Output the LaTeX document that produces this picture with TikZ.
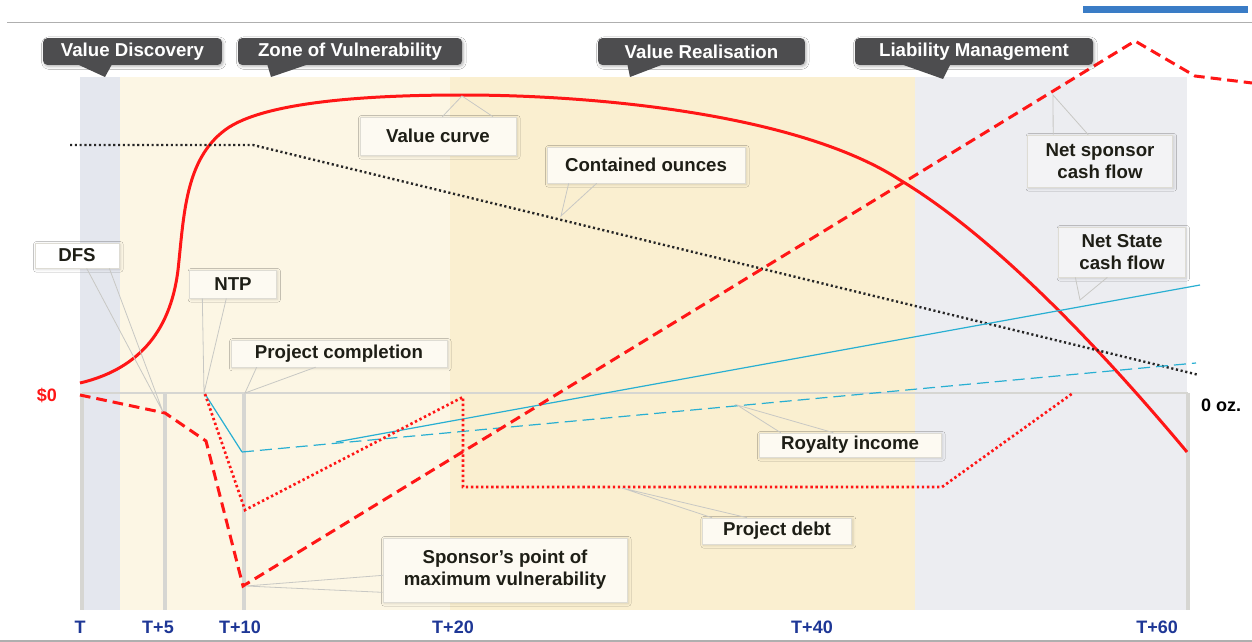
\documentclass[tikz,border=0pt]{standalone}
\usepackage{fontspec}
\setmainfont{Liberation Sans}
\usepackage{tikz}
\usetikzlibrary{shadows.blur}
\usetikzlibrary{shapes}

\definecolor{vdgrey}{RGB}{228,231,238}
\definecolor{zvyellow}{RGB}{252,246,228}
\definecolor{vryellow}{RGB}{250,239,208}
\definecolor{lmgrey}{RGB}{236,237,241}
\definecolor{phasegrey}{RGB}{77,77,79}
\definecolor{lblfill}{RGB}{253,250,242}
\definecolor{lblgreyfill}{RGB}{243,243,245}
\definecolor{lblline}{RGB}{222,220,212}
\definecolor{lbltext}{RGB}{30,30,22}
\definecolor{ptrgrey}{RGB}{200,200,196}
\definecolor{curvered}{RGB}{255,22,22}
\definecolor{statecyan}{RGB}{40,175,210}
\definecolor{tblue}{RGB}{30,55,150}
\definecolor{barblue}{RGB}{58,124,198}
\definecolor{rulegrey}{RGB}{175,175,175}
\definecolor{gridgrey}{RGB}{214,214,210}

\begin{document}
\begin{tikzpicture}[x=0.75pt,y=0.75pt,yscale=-1,xscale=1,
  phase/.style={fill=phasegrey, text=white, rounded corners=3pt, inner sep=0pt, minimum height=20pt,
    font=\bfseries\fontsize{14}{16}\selectfont,
    blur shadow={shadow blur steps=4, shadow xshift=1pt, shadow yshift=-1.2pt, shadow opacity=30}},
  lbl/.style={draw=lblline, fill=lblfill, line width=0.5pt, inner sep=0pt, align=center, text=lbltext,
    font=\bfseries\fontsize{14}{16.5}\selectfont,
    blur shadow={shadow blur steps=4, shadow xshift=1pt, shadow yshift=-1pt, shadow opacity=15}},
  pointer/.style={draw=ptrgrey, line width=0.6pt},
  gridline/.style={draw=gridgrey, line width=3.5pt},
  valuecurve/.style={draw=curvered, line width=2.25pt},
  sponsor/.style={draw=curvered, line width=2.25pt, dash pattern=on 8pt off 4.5pt},
  debt/.style={draw=curvered, line width=2pt, dash pattern=on 1.8pt off 2pt},
  ounces/.style={draw=black!85, line width=1.8pt, dash pattern=on 1.6pt off 2pt},
  state/.style={draw=statecyan, line width=0.9pt},
  royalty/.style={draw=statecyan, line width=0.9pt, dash pattern=on 9pt off 4.5pt},
  tlabel/.style={text=tblue, font=\bfseries\fontsize{13.5}{15}\selectfont}]
\useasboundingbox (0,0) rectangle (1252,642);
\fill[white] (0,0) rectangle (1252,642);

% page rules
\draw[rulegrey, line width=0.75pt] (7,23) -- (1252,23);
\fill[barblue] (1083,6) rectangle (1248,13);
\draw[rulegrey, line width=1.5pt] (0,641) -- (1252,641);

% zones
\fill[vdgrey] (80,77) rectangle (120,610);
\fill[zvyellow] (120,77) rectangle (450,610);
\fill[vryellow] (450,77) rectangle (915,610);
\fill[lmgrey] (915,77) rectangle (1187,610);

% axis and time marks
\draw[gridline, line width=2pt] (82,393) -- (1188,393);
\draw[gridline] (82,393) -- (82,610);
\draw[gridline] (165,393) -- (165,610);
\draw[gridline] (244,393) -- (244,610);
\draw[gridline] (1188,393) -- (1188,610);

% points the labels point at
\coordinate (vctip) at (462,96);
\coordinate (cotip) at (561,216);
\coordinate (nstip) at (1053,95);
\coordinate (sttip) at (1080,300);
\coordinate (dfstip) at (163,412);
\coordinate (ntptip) at (204,393);
\coordinate (pctip) at (245,393);
\coordinate (ritip) at (737,405);
\coordinate (pdtip) at (622,488);
\coordinate (sptip) at (246,586);

% Value curve
\draw[valuecurve] (80,383) .. controls (135,370) and (170,335) .. (178,270) .. controls (184,215) and (185,160) .. (225,130) .. controls (265,100) and (380,95) .. (462,95) .. controls (600,95) and (800,115) .. (900,180) .. controls (1000,240) and (1110,360) .. (1187,452);
% Contained ounces
\draw[ounces] (70,145) -- (253,145) -- (1199,375);
% Royalty income and Net State cash flow
\draw[royalty] (242,452) -- (1196,363);
\draw[state] (205,394) -- (242,452);
\draw[state] (336,442) -- (1200,285);
% Project debt
\draw[debt] (205,394) -- (245,510) -- (463,397) -- (463,487) -- (942,487) -- (1073,393);
% Net sponsor cash flow
\draw[sponsor] (80,395) -- (165,413) -- (206,441) -- (243,586) -- (1135,41) -- (1195,76) -- (1252,83);

% Text Node labels
\node[lbl, minimum width=117pt, minimum height=28.5pt] (vc) at (438,136) {Value curve};
\node[lbl, minimum width=148.5pt, minimum height=27pt] (co) at (646,165) {Contained ounces};
\node[lbl, fill=lblgreyfill, minimum width=108.75pt, minimum height=39pt] (ns) at (1100,161) {Net sponsor\\cash flow};
\node[lbl, fill=lblgreyfill, minimum width=95pt, minimum height=37.5pt] (st) at (1122,252) {Net State\\cash flow};
\node[lbl, fill=white, minimum width=63pt, minimum height=18.75pt] (dfs) at (77,255.5) {DFS};
\node[lbl, minimum width=65pt, minimum height=21pt] (ntp) at (233,284) {NTP};
\node[lbl, minimum width=162pt, minimum height=20pt] (pc) at (339,353.5) {Project completion};
\node[lbl, minimum width=136.5pt, minimum height=18pt] (ri) at (850,445) {Royalty income};
\node[lbl, minimum width=112pt, minimum height=19.5pt] (pd) at (777,531) {Project debt};
\node[lbl, minimum width=183pt, minimum height=48pt] (sp) at (505,570) {Sponsor’s point of\\maximum vulnerability};

% pointers
\draw[pointer] ([xshift=62pt]vc.north west) -- (vctip) -- ([xshift=100pt]vc.north west);
\draw[pointer] ([xshift=16.5pt]co.south west) -- (cotip) -- ([xshift=37.5pt]co.south west);
\draw[pointer] ([xshift=19.5pt]ns.north west) -- (nstip) -- ([xshift=45.75pt]ns.north west);
\draw[pointer] ([xshift=12.75pt]st.south west) -- (sttip) -- ([xshift=36.75pt]st.south west);
\draw[pointer] ([xshift=39pt]dfs.south west) -- (dfstip) -- ([xshift=56pt]dfs.south west);
\draw[pointer] ([xshift=9.75pt]ntp.south west) -- (ntptip) -- ([xshift=27.75pt]ntp.south west);
\draw[pointer] ([xshift=19.5pt]pc.south west) -- (pctip) -- ([xshift=63.75pt]pc.south west);
\draw[pointer] ([xshift=16.5pt]ri.north west) -- (ritip) -- ([xshift=56pt]ri.north west);
\draw[pointer] ([xshift=7.5pt]pd.north west) -- (pdtip) -- ([xshift=33.75pt]pd.north west);
\draw[pointer] ([yshift=-20.25pt]sp.south west) -- (sptip) -- ([yshift=-7.5pt]sp.south west);

% phase callouts
\coordinate (vdtip) at (105,77);
\coordinate (zvtip) at (271,77);
\coordinate (vrtip) at (630,77);
\coordinate (lmtip) at (943,79);
\node[phase, minimum width=134pt] (vd) at (132.5,51.5) {Value Discovery};
\node[phase, minimum width=168pt] (zv) at (350,51.5) {Zone of Vulnerability};
\node[phase, minimum width=155pt] (vr) at (701.5,51.5) {Value Realisation};
\node[phase, minimum width=178.5pt] (lm) at (974,51.5) {Liability Management};
\fill[phasegrey] ([xshift=25pt,yshift=-1pt]vd.south west) -- (vdtip) -- ([xshift=52pt,yshift=-1pt]vd.south west) -- cycle;
\fill[phasegrey] ([xshift=22pt,yshift=-1pt]zv.south west) -- (zvtip) -- ([xshift=54pt,yshift=-1pt]zv.south west) -- cycle;
\fill[phasegrey] ([xshift=22pt,yshift=-1pt]vr.south west) -- (vrtip) -- ([xshift=50pt,yshift=-1pt]vr.south west) -- cycle;
\fill[phasegrey] ([xshift=34pt,yshift=-1pt]lm.south west) -- (lmtip) -- ([xshift=72pt,yshift=-1pt]lm.south west) -- cycle;

% axis labels
\node[text=curvered, font=\bfseries\fontsize{13.5}{15}\selectfont] (zero) at (47,395) {\$0};
\node[text=black, font=\bfseries\fontsize{13.5}{15}\selectfont] (oz) at (1221,405) {0 oz.};
\node[tlabel] (t0) at (80,627) {T};
\node[tlabel] (t5) at (158,627) {T+5};
\node[tlabel] (t10) at (240,627) {T+10};
\node[tlabel] (t20) at (453,627) {T+20};
\node[tlabel] (t40) at (812,627) {T+40};
\node[tlabel] (t60) at (1157,627) {T+60};
\end{tikzpicture}
\end{document}
